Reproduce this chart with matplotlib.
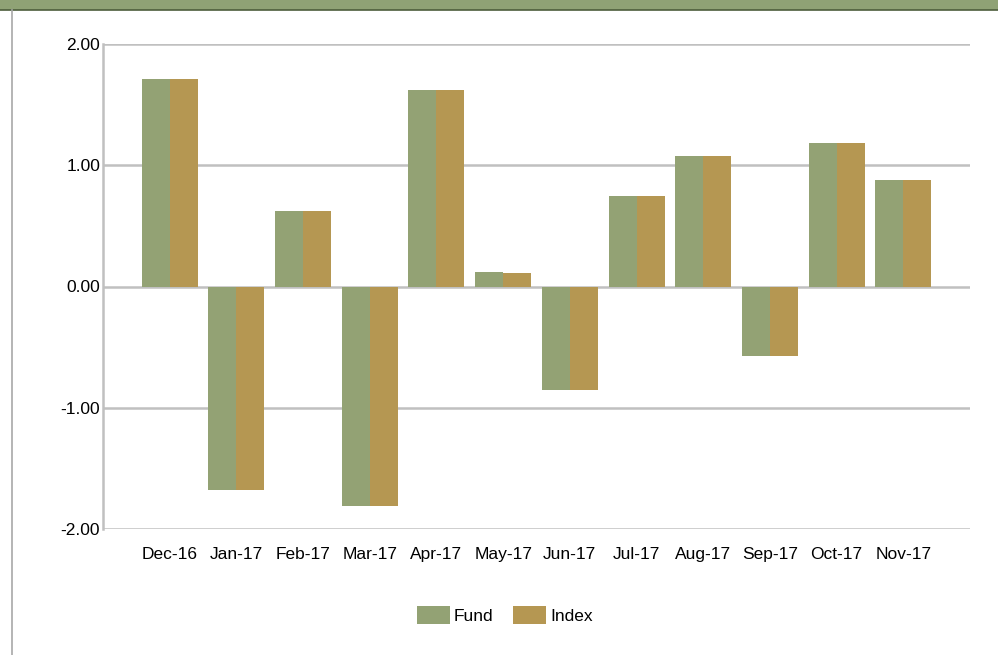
import matplotlib

matplotlib.use("Agg")
import matplotlib.pyplot as plt  # noqa: E402
import numpy as np  # noqa: E402
from matplotlib.lines import Line2D  # noqa: E402
from matplotlib.patches import Patch, Rectangle  # noqa: E402

months = ["Dec-16", "Jan-17", "Feb-17", "Mar-17", "Apr-17", "May-17",
          "Jun-17", "Jul-17", "Aug-17", "Sep-17", "Oct-17", "Nov-17"]
fund = [1.71, -1.68, 0.62, -1.81, 1.62, 0.12, -0.85, 0.75, 1.08, -0.57, 1.18, 0.88]
index = [1.71, -1.68, 0.62, -1.81, 1.62, 0.11, -0.85, 0.75, 1.08, -0.57, 1.18, 0.88]
yticks = [-2.0, -1.0, 0.0, 1.0, 2.0]

FUND_C = "#93a274"
INDEX_C = "#b59752"
GRID_C = "#c0c0c0"

plt.rcParams["font.family"] = ["Liberation Sans", "DejaVu Sans"]

fig = plt.figure(figsize=(9.98, 6.55), dpi=100)

# header band + frame line on the left
fig.add_artist(Rectangle((0, 1 - 10 / 655), 1, 10 / 655, transform=fig.transFigure,
                         facecolor="#8fa275", edgecolor="none"))
fig.add_artist(Line2D([0, 1], [1 - 10 / 655] * 2, transform=fig.transFigure,
                      color="#4d5e3c", lw=1.2))
fig.add_artist(Line2D([12 / 998] * 2, [0, 1 - 10 / 655], transform=fig.transFigure,
                      color="#a8a8a8", lw=1.2))

ax = fig.add_axes([103 / 998, (655 - 529) / 655, 867 / 998, 485 / 655])
x = np.arange(len(months))
w = 0.42
ax.bar(x - w / 2, fund, w, color=FUND_C, label="Fund", zorder=3)
ax.bar(x + w / 2, index, w, color=INDEX_C, label="Index", zorder=3)

ax.set_xlim(-1, 12)
ax.set_ylim(-2, 2)
ax.set_yticks(yticks)
ax.set_yticklabels([f"{v:.2f}" for v in yticks])
ax.set_xticks(x)
ax.set_xticklabels(months)
ax.tick_params(axis="both", length=0, labelsize=12.5, colors="black")
ax.tick_params(axis="x", pad=13)
ax.tick_params(axis="y", pad=2)
ax.yaxis.grid(True, color=GRID_C, lw=1.8, zorder=0)
for s in ["top", "right", "bottom"]:
    ax.spines[s].set_visible(False)
ax.spines["left"].set_color(GRID_C)
ax.spines["left"].set_linewidth(1.8)

handles = [Patch(facecolor=FUND_C, label="Fund"), Patch(facecolor=INDEX_C, label="Index")]
fig.legend(handles=handles, loc="center", bbox_to_anchor=(0.506, 1 - 615 / 655), ncol=2,
           frameon=False, fontsize=12.5, handlelength=1.85, handleheight=1.2,
           handletextpad=0.25, columnspacing=1.15)

fig.savefig("out.png", dpi=100)
